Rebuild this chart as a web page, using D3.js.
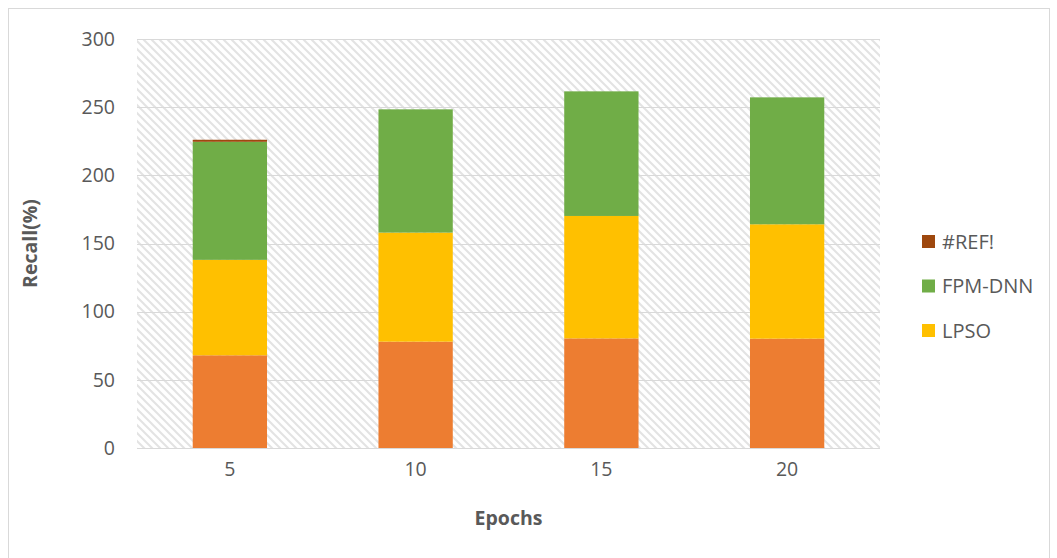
<!DOCTYPE html>
<html>
<head>
<meta charset="utf-8">
<script src="https://cdn.jsdelivr.net/npm/d3@7/dist/d3.min.js"></script>
<style>
  html, body { margin: 0; padding: 0; background: #fff; }
  svg { display: block; font-family: "Open Sans", "Liberation Sans", sans-serif; }
</style>
</head>
<body>
<svg id="chart" width="1057" height="558"></svg>
<script>
// Epoch categories and stacked recall values per series
const epochs = ["5", "10", "15", "20"];
const baseSeries = [68, 78, 80.4, 80.2];
const lpso = [70, 80, 89.8, 83.9];
const fpmDnn = [86.6, 90.4, 91.4, 93.1];
const refErr = [1.5, 0, 0, 0];
const yTicks = [0, 50, 100, 150, 200, 250, 300];

const seriesNames = ["base", "LPSO", "FPM-DNN", "#REF!"];
const seriesColors = ["#ED7D31", "#FFC000", "#70AD47", "#9E480E"];
const legendNames = ["#REF!", "FPM-DNN", "LPSO"];

const rows = epochs.map((e, i) => ({
  epoch: e, "base": baseSeries[i], "LPSO": lpso[i], "FPM-DNN": fpmDnn[i], "#REF!": refErr[i]
}));

const svg = d3.select("#chart");
const plot = { left: 137, right: 880, top: 39, bottom: 448 };

// Outer chart frame
svg.append("rect")
  .attr("x", 8.5).attr("y", 8.5).attr("width", 1041).attr("height", 560)
  .attr("fill", "#fff").attr("stroke", "#d9d9d9").attr("stroke-width", 1);

// Diagonal hatch fill for the plot area
const defs = svg.append("defs");
const pat = defs.append("pattern")
  .attr("id", "hatch").attr("patternUnits", "userSpaceOnUse")
  .attr("width", 8).attr("height", 8);
pat.append("rect").attr("width", 8).attr("height", 8).attr("fill", "#fff");
pat.append("path").attr("d", "M-2,-2 L10,10 M-2,6 L2,10 M6,-2 L10,2")
  .attr("stroke", "#e3e3e3").attr("stroke-width", 2);

const x = d3.scaleBand().domain(epochs)
  .range([plot.left, plot.right]).paddingInner(0.6).paddingOuter(0.3);
const y = d3.scaleLinear().domain([0, 300]).range([plot.bottom, plot.top]);

svg.append("rect")
  .attr("x", plot.left).attr("y", plot.top)
  .attr("width", plot.right - plot.left).attr("height", plot.bottom - plot.top)
  .attr("fill", "url(#hatch)");

// Horizontal gridlines
svg.append("g").selectAll("line").data(yTicks.filter(t => t > 0)).join("line")
  .attr("x1", plot.left).attr("x2", plot.right)
  .attr("y1", d => Math.round(y(d)) + 0.5).attr("y2", d => Math.round(y(d)) + 0.5)
  .attr("stroke", "#d9d9d9").attr("stroke-width", 1);

// Stacked bars
const stack = d3.stack().keys(seriesNames)(rows);
svg.append("g").selectAll("g").data(stack).join("g")
  .attr("fill", (d, i) => seriesColors[i])
  .selectAll("rect").data(d => d).join("rect")
  .attr("x", d => x(d.data.epoch))
  .attr("width", x.bandwidth())
  .attr("y", d => y(d[1]))
  .attr("height", d => Math.max(0, y(d[0]) - y(d[1])));

// X axis baseline
svg.append("line")
  .attr("x1", plot.left).attr("x2", plot.right)
  .attr("y1", plot.bottom + 0.5).attr("y2", plot.bottom + 0.5)
  .attr("stroke", "#d9d9d9").attr("stroke-width", 1);

// Axes (labels only)
const yAxis = svg.append("g").attr("transform", `translate(${plot.left},0)`)
  .call(d3.axisLeft(y).tickValues(yTicks).tickSize(0).tickPadding(22));
yAxis.select(".domain").remove();
yAxis.selectAll("text").attr("fill", "#595959").attr("font-size", 19.5)
  .style("font-family", "'Open Sans', sans-serif");

const xAxis = svg.append("g").attr("transform", `translate(0,${plot.bottom})`)
  .call(d3.axisBottom(x).tickSize(0).tickPadding(14));
xAxis.select(".domain").remove();
xAxis.selectAll("text").attr("fill", "#595959").attr("font-size", 19.5)
  .style("font-family", "'Open Sans', sans-serif");

// Axis titles
svg.append("text")
  .attr("transform", `translate(37,${(plot.top + plot.bottom) / 2}) rotate(-90)`)
  .attr("text-anchor", "middle").attr("font-size", 19.5).attr("font-weight", "bold")
  .attr("fill", "#595959").text("Recall(%)");
svg.append("text")
  .attr("x", (plot.left + plot.right) / 2).attr("y", 525)
  .attr("text-anchor", "middle").attr("font-size", 19.5).attr("font-weight", "bold")
  .attr("fill", "#595959").text("Epochs");

// Legend
const legend = svg.append("g").attr("transform", "translate(922,235)");
legendNames.forEach((name, i) => {
  const g = legend.append("g").attr("transform", `translate(0,${i * 44.5})`);
  g.append("rect").attr("width", 13).attr("height", 13)
    .attr("fill", seriesColors[seriesNames.indexOf(name)]);
  g.append("text").attr("x", 20).attr("y", 6.5).attr("dy", "0.35em")
    .attr("font-size", 20).attr("fill", "#595959").text(name);
});
</script>
</body>
</html>
